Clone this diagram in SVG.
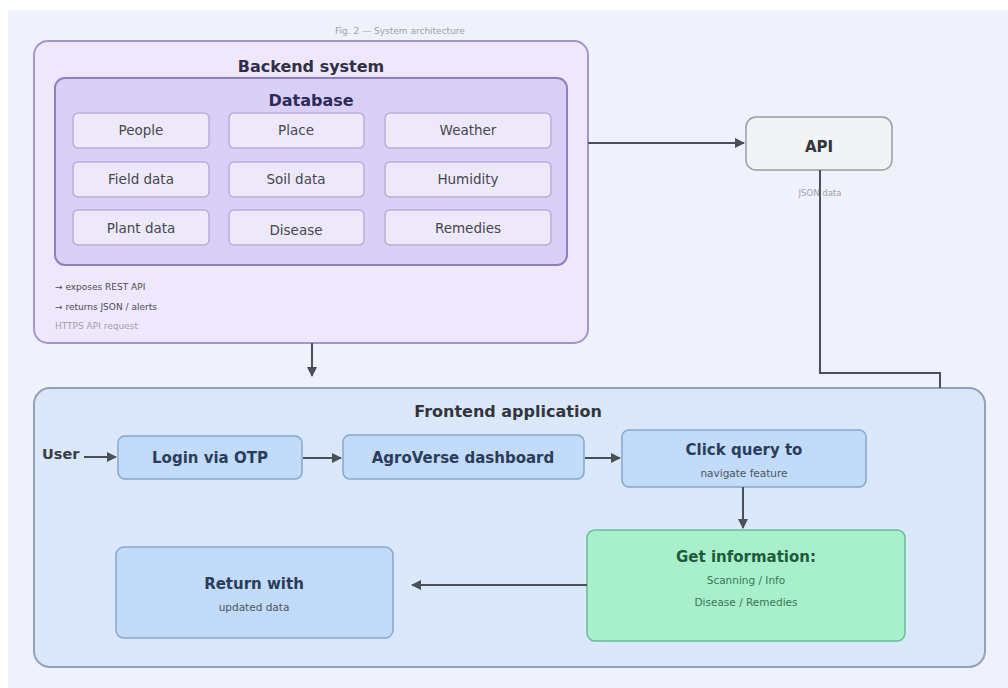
<svg xmlns="http://www.w3.org/2000/svg" width="1008" height="688" viewBox="0 0 1008 688">
  <style>
    text { font-family: "DejaVu Sans", "Liberation Sans", sans-serif; text-anchor: middle; }
    .title { font-size: 16px; font-weight: bold; fill: #2f2f48; }
    .db-title { font-size: 16px; font-weight: bold; fill: #2c2a5c; }
    .cell rect { fill: #eee9fa; stroke: #b9add9; stroke-width: 1.5; }
    .cell text { font-size: 13.5px; fill: #46464f; }
    .note { font-size: 9px; fill: #4a4a55; text-anchor: start; }
    .faint { font-size: 9px; fill: #a0a0aa; }
    .blue rect { fill: #c1dbf8; stroke: #86a8cc; stroke-width: 1.5; }
    .blue .main { font-size: 15px; font-weight: bold; fill: #2b3d5a; }
    .sub { font-size: 10.5px; fill: #4d5560; }
    .edge { fill: none; stroke: #4a5058; stroke-width: 2; }
  </style>
  <defs>
    <marker id="arrow" viewBox="0 0 10 10" refX="9" refY="5" markerWidth="5" markerHeight="5" orient="auto">
      <path d="M0,0 L10,5 L0,10 z" fill="#4a5058"/>
    </marker>
  </defs>

  <!-- page -->
  <rect x="0" y="0" width="1008" height="688" fill="#ffffff"/>
  <rect x="8" y="10" width="1000" height="678" fill="#eff2fa"/>
  <text x="400" y="34" class="faint" font-size="9.5">Fig. 2 — System architecture</text>

  <!-- backend container -->
  <g id="backend">
    <rect x="34" y="41" width="554" height="302" rx="14" fill="#efe8fc" stroke="#a395c8" stroke-width="2"/>
    <text x="311" y="72" class="title">Backend system</text>
    <text x="55" y="290" class="note">→ exposes REST API</text>
    <text x="55" y="310" class="note">→ returns JSON / alerts</text>
    <text x="55" y="329" class="faint" style="text-anchor:start">HTTPS API request</text>
  </g>

  <g id="database">
    <rect x="55" y="78" width="512" height="187" rx="10" fill="#dad0f7" stroke="#8d80c2" stroke-width="2"/>
    <text x="311" y="106" class="db-title">Database</text>
  </g>

  <g id="db-people" class="cell"><rect x="73" y="113" width="136" height="35" rx="5"/><text x="141" y="135">People</text></g>
  <g id="db-place" class="cell"><rect x="229" y="113" width="135" height="35" rx="5"/><text x="296" y="135">Place</text></g>
  <g id="db-weather" class="cell"><rect x="385" y="113" width="166" height="35" rx="5"/><text x="468" y="135">Weather</text></g>
  <g id="db-field" class="cell"><rect x="73" y="162" width="136" height="35" rx="5"/><text x="141" y="184">Field data</text></g>
  <g id="db-soil" class="cell"><rect x="229" y="162" width="135" height="35" rx="5"/><text x="296" y="184">Soil data</text></g>
  <g id="db-humidity" class="cell"><rect x="385" y="162" width="166" height="35" rx="5"/><text x="468" y="184">Humidity</text></g>
  <g id="db-plant" class="cell"><rect x="73" y="210" width="136" height="35" rx="5"/><text x="141" y="233">Plant data</text></g>
  <g id="db-disease" class="cell"><rect x="229" y="210" width="135" height="35" rx="5"/><text x="296" y="235">Disease</text></g>
  <g id="db-remedies" class="cell"><rect x="385" y="210" width="166" height="35" rx="5"/><text x="468" y="233">Remedies</text></g>

  <!-- API -->
  <g id="api">
    <rect x="746" y="117" width="146" height="53" rx="10" fill="#f1f3f4" stroke="#9a9ea3" stroke-width="1.5"/>
    <text x="819" y="152" style="font-size:15px;font-weight:bold;fill:#33363a">API</text>
  </g>

  <!-- frontend container -->
  <g id="frontend">
    <rect x="34" y="388" width="951" height="279" rx="16" fill="#dbe8fb" stroke="#8fa2ba" stroke-width="2"/>
    <text x="508" y="417" class="title" style="fill:#33363c">Frontend application</text>
  </g>

  <g id="user">
    <text x="42" y="459" style="font-size:14.5px;font-weight:bold;fill:#3a3d44;text-anchor:start">User</text>
  </g>

  <g id="login" class="blue">
    <rect x="118" y="436" width="184" height="43" rx="7"/>
    <text x="210" y="463" class="main">Login via OTP</text>
  </g>

  <g id="dashboard" class="blue">
    <rect x="343" y="435" width="241" height="44" rx="7"/>
    <text x="463" y="463" class="main">AgroVerse dashboard</text>
  </g>

  <g id="click-query" class="blue">
    <rect x="622" y="430" width="244" height="57" rx="7"/>
    <text x="744" y="455" class="main">Click query to</text>
    <text x="744" y="477" class="sub">navigate feature</text>
  </g>

  <g id="get-info">
    <rect x="587" y="530" width="318" height="111" rx="8" fill="#a8f0cc" stroke="#66bd94" stroke-width="1.5"/>
    <text x="746" y="562" style="font-size:15px;font-weight:bold;fill:#1f5a3c">Get information:</text>
    <text x="746" y="584" class="sub" style="fill:#3a7458">Scanning / Info</text>
    <text x="746" y="606" class="sub" style="fill:#3a7458">Disease / Remedies</text>
  </g>

  <g id="return" class="blue">
    <rect x="116" y="547" width="277" height="91" rx="8"/>
    <text x="254" y="589" class="main">Return with</text>
    <text x="254" y="611" class="sub">updated data</text>
  </g>

  <!-- connectors -->
  <g id="connectors">
    <path class="edge" d="M588,143 L744,143" marker-end="url(#arrow)"/>
    <path class="edge" d="M312,343 L312,376" marker-end="url(#arrow)"/>
    <path class="edge" d="M820,170 L820,373 L940,373 L940,388"/>
    <path class="edge" d="M84,457 L116,457" marker-end="url(#arrow)"/>
    <path class="edge" d="M303,458 L341,458" marker-end="url(#arrow)"/>
    <path class="edge" d="M585,458 L620,458" marker-end="url(#arrow)"/>
    <path class="edge" d="M743,487 L743,528" marker-end="url(#arrow)"/>
    <path class="edge" d="M587,585 L412,585" marker-end="url(#arrow)"/>
    <text x="820" y="196" class="faint" style="font-size:8.5px">JSON data</text>
  </g>
</svg>
